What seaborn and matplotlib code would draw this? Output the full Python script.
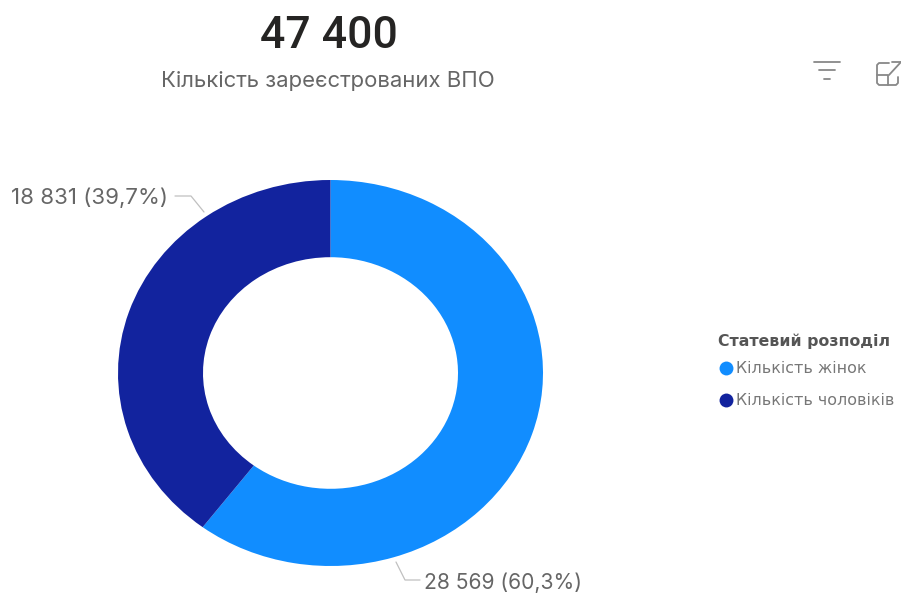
import matplotlib
matplotlib.use("Agg")
import matplotlib.pyplot as plt
import seaborn as sns

# data
categories = ["Кількість жінок", "Кількість чоловіків"]
values = [28569, 18831]
value_labels = ["28 569 (60,3%)", "18 831 (39,7%)"]
colors = ["#118DFF", "#12239E"]
total_label = "47 400"
subtitle = "Кількість зареєстрованих ВПО"
legend_title = "Статевий розподіл"

sns.set_theme(style="white")
plt.rcParams["font.family"] = ["Inter", "DejaVu Sans"]

W, H = 901, 594
fig = plt.figure(figsize=(W / 100, H / 100), dpi=100, facecolor="white")

# donut is stretched in the original, so aspect stays auto
ax = fig.add_axes([118 / W, (H - 566) / H, 425 / W, 386 / H])
ax.pie(values, colors=colors, startangle=90, counterclock=False, radius=1,
       wedgeprops=dict(width=0.4, linewidth=0))
ax.set_aspect("auto")
ax.set_xlim(-1, 1)
ax.set_ylim(-1, 1)

# overlay in pixel coords for texts and icons
ov = fig.add_axes([0, 0, 1, 1], facecolor="none")
ov.set_xlim(0, W)
ov.set_ylim(H, 0)
ov.axis("off")

ov.text(328.5, 48, total_label, ha="center", va="baseline", fontsize=32,
        family="Roboto", weight="medium", color="#252423")
ov.text(328, 87, subtitle, ha="center", va="baseline", fontsize=15.9, color="#666666")

# value labels + leader lines
ov.text(582, 589, value_labels[0], ha="right", va="baseline", fontsize=15.2, color="#666666")
ov.text(168, 204, value_labels[1], ha="right", va="baseline", fontsize=16, color="#666666")
ov.plot([396, 405, 420], [562, 580, 580], color="#c0c0c0", lw=0.9)
ov.plot([175, 191, 204], [196, 196, 212], color="#c0c0c0", lw=0.9)

# legend
ov.text(718, 346, legend_title, ha="left", va="baseline", fontsize=11.3,
        family="DejaVu Sans", weight="bold", color="#555555")
for lab, col, y in zip(categories, colors, [368, 400]):
    ov.scatter([726], [y], s=100, color=col, linewidths=0)
    ov.text(736, y + 5, lab, ha="left", va="baseline", fontsize=11.4,
            family="DejaVu Sans", color="#777777")

# filter icon
for x0, x1, y in [(814, 840, 62), (819, 835, 70), (824, 830, 79)]:
    ov.plot([x0, x1], [y, y], color="#888888", lw=1.3)
# focus icon, cut by the right edge
ov.plot([889, 879, 877, 877, 879, 896, 898, 898],
        [63, 63, 65, 83, 85, 85, 83, 77], color="#888888", lw=1.3)
ov.plot([877, 888, 888], [75, 75, 85], color="#888888", lw=1.3)
ov.plot([889, 901], [75, 62], color="#888888", lw=1.3)
ov.plot([892, 901], [62, 62], color="#888888", lw=1.3)

fig.savefig("out.png", dpi=100)
